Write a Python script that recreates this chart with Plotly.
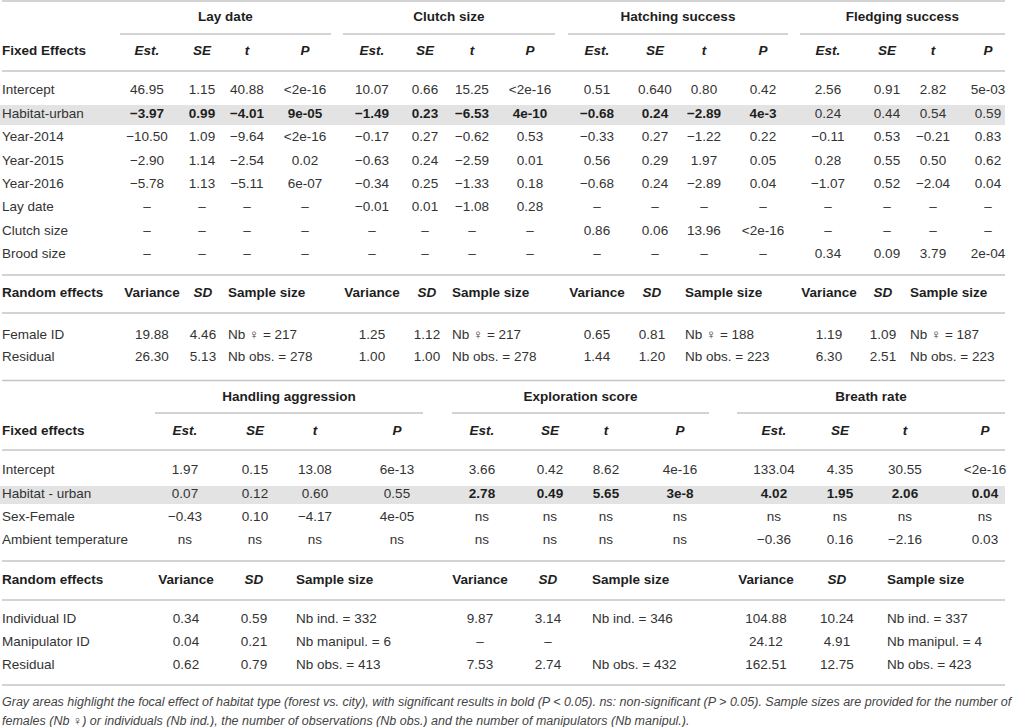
import plotly.graph_objects as go

FONT = "Liberation Sans, Arial, Helvetica, sans-serif"
TXT = "#333333"
BOLD_TXT = "#1e1e1e"
LINE = "#c4c4c4"
BAND = "#e3e3e3"
FS = 13.5

# ------------------------------------------------------------------ data
stat_headers = ["Est.", "SE", "t", "P"]
rand_headers = ["Variance", "SD", "Sample size"]

top_groups = ["Lay date", "Clutch size", "Hatching success", "Fledging success"]
top_fixed_rows = ["Intercept", "Habitat-urban", "Year-2014", "Year-2015",
                  "Year-2016", "Lay date", "Clutch size", "Brood size"]
D = "–"
lay_date_fixed = [
    ["46.95", "1.15", "40.88", "<2e-16"],
    ["−3.97", "0.99", "−4.01", "9e-05"],
    ["−10.50", "1.09", "−9.64", "<2e-16"],
    ["−2.90", "1.14", "−2.54", "0.02"],
    ["−5.78", "1.13", "−5.11", "6e-07"],
    [D, D, D, D],
    [D, D, D, D],
    [D, D, D, D],
]
clutch_size_fixed = [
    ["10.07", "0.66", "15.25", "<2e-16"],
    ["−1.49", "0.23", "−6.53", "4e-10"],
    ["−0.17", "0.27", "−0.62", "0.53"],
    ["−0.63", "0.24", "−2.59", "0.01"],
    ["−0.34", "0.25", "−1.33", "0.18"],
    ["−0.01", "0.01", "−1.08", "0.28"],
    [D, D, D, D],
    [D, D, D, D],
]
hatching_fixed = [
    ["0.51", "0.640", "0.80", "0.42"],
    ["−0.68", "0.24", "−2.89", "4e-3"],
    ["−0.33", "0.27", "−1.22", "0.22"],
    ["0.56", "0.29", "1.97", "0.05"],
    ["−0.68", "0.24", "−2.89", "0.04"],
    [D, D, D, D],
    ["0.86", "0.06", "13.96", "<2e-16"],
    [D, D, D, D],
]
fledging_fixed = [
    ["2.56", "0.91", "2.82", "5e-03"],
    ["0.24", "0.44", "0.54", "0.59"],
    ["−0.11", "0.53", "−0.21", "0.83"],
    ["0.28", "0.55", "0.50", "0.62"],
    ["−1.07", "0.52", "−2.04", "0.04"],
    [D, D, D, D],
    [D, D, D, D],
    ["0.34", "0.09", "3.79", "2e-04"],
]
top_significant = [True, True, True, False]

top_random_rows = ["Female ID", "Residual"]
lay_date_random = [["19.88", "4.46", "Nb ♀ = 217"], ["26.30", "5.13", "Nb obs. = 278"]]
clutch_size_random = [["1.25", "1.12", "Nb ♀ = 217"], ["1.00", "1.00", "Nb obs. = 278"]]
hatching_random = [["0.65", "0.81", "Nb ♀ = 188"], ["1.44", "1.20", "Nb obs. = 223"]]
fledging_random = [["1.19", "1.09", "Nb ♀ = 187"], ["6.30", "2.51", "Nb obs. = 223"]]

bot_groups = ["Handling aggression", "Exploration score", "Breath rate"]
bot_fixed_rows = ["Intercept", "Habitat - urban", "Sex-Female", "Ambient temperature"]
handling_fixed = [
    ["1.97", "0.15", "13.08", "6e-13"],
    ["0.07", "0.12", "0.60", "0.55"],
    ["−0.43", "0.10", "−4.17", "4e-05"],
    ["ns", "ns", "ns", "ns"],
]
exploration_fixed = [
    ["3.66", "0.42", "8.62", "4e-16"],
    ["2.78", "0.49", "5.65", "3e-8"],
    ["ns", "ns", "ns", "ns"],
    ["ns", "ns", "ns", "ns"],
]
breath_fixed = [
    ["133.04", "4.35", "30.55", "<2e-16"],
    ["4.02", "1.95", "2.06", "0.04"],
    ["ns", "ns", "ns", "ns"],
    ["−0.36", "0.16", "−2.16", "0.03"],
]
bot_significant = [False, True, True]

bot_random_rows = ["Individual ID", "Manipulator ID", "Residual"]
handling_random = [["0.34", "0.59", "Nb ind. = 332"],
                   ["0.04", "0.21", "Nb manipul. = 6"],
                   ["0.62", "0.79", "Nb obs. = 413"]]
exploration_random = [["9.87", "3.14", "Nb ind. = 346"],
                      [D, D, ""],
                      ["7.53", "2.74", "Nb obs. = 432"]]
breath_random = [["104.88", "10.24", "Nb ind. = 337"],
                 ["24.12", "4.91", "Nb manipul. = 4"],
                 ["162.51", "12.75", "Nb obs. = 423"]]

caption_lines = [
    "Gray areas highlight the focal effect of habitat type (forest vs. city), with significant results in bold "
    "(P < 0.05). ns: non-significant (P > 0.05). Sample sizes are provided for the number of",
    "females (Nb ♀) or individuals (Nb ind.), the number of observations (Nb obs.) and the number of "
    "manipulators (Nb manipul.).",
]

top_fixed = [lay_date_fixed, clutch_size_fixed, hatching_fixed, fledging_fixed]
top_random = [lay_date_random, clutch_size_random, hatching_random, fledging_random]
bot_fixed = [handling_fixed, exploration_fixed, breath_fixed]
bot_random = [handling_random, exploration_random, breath_random]

# ------------------------------------------------------------------ layout geometry (pixels)
LEFT, RIGHT = 2, 1005
top_cols = [[147, 202, 247, 305], [372, 425, 472, 530], [597, 655, 704, 763], [828, 887, 933, 988]]
top_rand_cols = [[152, 203, 228], [372, 427, 452], [597, 652, 685], [829, 883, 910]]
top_spans = [(120, 331), (343, 555), (568, 788), (800, RIGHT)]
top_y = dict(title=18, uline=34, head=52, line1=71, row0=91, step=23.4,
             line2=275, rhead=294, line3=313, rrow0=335.5, rstep=22, line4=380.5,
             band=(105, 125))

bot_cols = [[185, 255, 315, 397], [482, 550, 606, 680], [774, 840, 905, 985]]
bot_rand_cols = [[186, 254, 296], [480, 548, 592], [766, 837, 887]]
bot_spans = [(155, 423), (452, 709), (737, RIGHT)]
bot_y = dict(title=398, uline=413, head=432, line1=450, row0=471, step=23.3,
             line2=561, rhead=581, line3=600, rrow0=620, rstep=23, line4=685,
             band=(486, 504))
cap_y = [703, 722]


def esc(s):
    return s.replace("&", "&amp;").replace("<", "&lt;").replace(">", "&gt;")


xs, ys, texts, poss, cols = [], [], [], [], []


def add(x, y, s, pos="middle center", bold=False, italic=False):
    t = esc(s)
    if italic:
        t = "<i>" + t + "</i>"
    if bold:
        t = "<b>" + t + "</b>"
    xs.append(x)
    ys.append(y)
    texts.append(t)
    poss.append(pos)
    cols.append(BOLD_TXT if bold else TXT)


shapes = []


def hline(x0, x1, y, w=1.4):
    shapes.append(dict(type="line", xref="x", yref="y", x0=x0, x1=x1, y0=y, y1=y,
                       line=dict(color=LINE, width=w), layer="above"))


def build(groups, fixed_rows, fixed, sig, random_rows, random, cols_, rcols, spans, Y,
          fixed_label, top_border):
    b0, b1 = Y["band"]
    shapes.append(dict(type="rect", xref="x", yref="y", x0=0, x1=RIGHT, y0=b0, y1=b1,
                       fillcolor=BAND, line=dict(width=0), layer="below"))
    if top_border is not None:
        hline(LEFT, RIGHT, top_border, 1.6)
    for g, (a, b) in zip(groups, spans):
        add((a + b) / 2, Y["title"], g, bold=True)
        hline(a, b, Y["uline"])
    for y in (Y["line1"], Y["line2"], Y["line3"], Y["line4"]):
        hline(LEFT, RIGHT, y, 1.6)
    add(LEFT, Y["head"], fixed_label, pos="middle right", bold=True)
    for gc in cols_:
        for x, h in zip(gc, stat_headers):
            add(x, Y["head"], h, bold=True, italic=True)
    for i, lab in enumerate(fixed_rows):
        y = Y["row0"] + i * Y["step"]
        add(LEFT, y, lab, pos="middle right")
        for gi, gc in enumerate(cols_):
            for x, v in zip(gc, fixed[gi][i]):
                add(x, y, v, bold=(i == 1 and sig[gi]))
    add(LEFT, Y["rhead"], "Random effects", pos="middle right", bold=True)
    for rc in rcols:
        add(rc[0], Y["rhead"], rand_headers[0], bold=True)
        add(rc[1], Y["rhead"], rand_headers[1], bold=True, italic=True)
        add(rc[2], Y["rhead"], rand_headers[2], pos="middle right", bold=True)
    for i, lab in enumerate(random_rows):
        y = Y["rrow0"] + i * Y["rstep"]
        add(LEFT, y, lab, pos="middle right")
        for gi, rc in enumerate(rcols):
            var, sd, n = random[gi][i]
            add(rc[0], y, var)
            add(rc[1], y, sd)
            if n:
                add(rc[2], y, n, pos="middle right")


build(top_groups, top_fixed_rows, top_fixed, top_significant, top_random_rows, top_random,
      top_cols, top_rand_cols, top_spans, top_y, "Fixed Effects", 1)
build(bot_groups, bot_fixed_rows, bot_fixed, bot_significant, bot_random_rows, bot_random,
      bot_cols, bot_rand_cols, bot_spans, bot_y, "Fixed effects", None)

fig = go.Figure()
fig.add_trace(go.Scatter(
    x=xs, y=ys, text=texts, mode="text", textposition=poss,
    textfont=dict(family=FONT, size=FS, color=cols),
    hoverinfo="skip", showlegend=False, cliponaxis=False))
fig.add_trace(go.Scatter(
    x=[LEFT] * len(caption_lines), y=cap_y,
    text=["<i>" + esc(c) + "</i>" for c in caption_lines],
    mode="text", textposition="middle right",
    textfont=dict(family=FONT, size=12.5, color="#444444"),
    hoverinfo="skip", showlegend=False, cliponaxis=False))

fig.update_layout(
    width=1016, height=727, margin=dict(l=0, r=0, t=0, b=0),
    paper_bgcolor="white", plot_bgcolor="white", shapes=shapes,
    xaxis=dict(range=[0, 1016], visible=False, fixedrange=True),
    yaxis=dict(range=[727, 0], visible=False, fixedrange=True),
)
fig.write_html("out.html", config={"displayModeBar": False},
               post_script="document.body.style.margin='0';document.body.style.overflow='hidden';")
